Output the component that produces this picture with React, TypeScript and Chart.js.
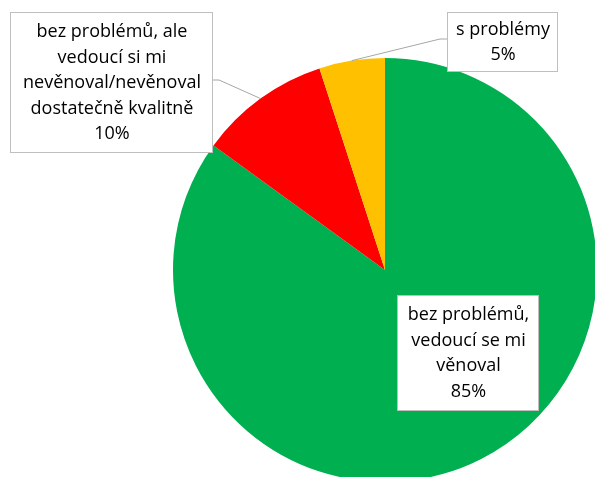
import React, { useEffect, useRef } from "react";
import { Chart, registerables } from "chart.js";

Chart.register(...registerables);

const categories: string[][] = [
  ["bez problémů,", "vedoucí se mi", "věnoval"],
  ["bez problémů, ale", "vedoucí si mi", "nevěnoval/nevěnoval", "dostatečně kvalitně"],
  ["s problémy"],
];
const values: number[] = [85, 10, 5];
const colors: string[] = ["#00B050", "#FF0000", "#FFC000"];

// label box layout (left, top, right, bottom) in page pixels
const boxes = [
  { x1: 397, y1: 295, x2: 538, y2: 410, leader: false },
  { x1: 10, y1: 12, x2: 212, y2: 152, leader: true, side: "right", ly: 80 },
  { x1: 447, y1: 12, x2: 557, y2: 71, leader: true, side: "left", ly: 39 },
];

const FONT = '18px "Open Sans", sans-serif';

const labelPlugin = {
  id: "boxLabels",
  afterDatasetsDraw(chart: any) {
    const ctx = chart.ctx as CanvasRenderingContext2D;
    const meta = chart.getDatasetMeta(0);
    const total = values.reduce((a, b) => a + b, 0);
    ctx.save();
    boxes.forEach((b: any, i: number) => {
      const arc = meta.data[i];
      if (b.leader && arc) {
        const mid = (arc.startAngle + arc.endAngle) / 2;
        const ax = arc.x + Math.cos(mid) * arc.outerRadius;
        const ay = arc.y + Math.sin(mid) * arc.outerRadius;
        ctx.strokeStyle = "#A6A6A6";
        ctx.lineWidth = 1;
        ctx.beginPath();
        ctx.moveTo(ax, ay);
        if (b.side === "right") {
          ctx.lineTo(b.x2 + 7, b.ly);
          ctx.lineTo(b.x2, b.ly);
        } else {
          ctx.lineTo(b.x1 - 7, b.ly);
          ctx.lineTo(b.x1, b.ly);
        }
        ctx.stroke();
      }
      ctx.fillStyle = "#FFFFFF";
      ctx.fillRect(b.x1, b.y1, b.x2 - b.x1, b.y2 - b.y1);
      ctx.strokeStyle = "#BFBFBF";
      ctx.lineWidth = 1;
      ctx.strokeRect(b.x1 + 0.5, b.y1 + 0.5, b.x2 - b.x1, b.y2 - b.y1);
      const lines = [...categories[i], Math.round((values[i] / total) * 100) + "%"];
      const lh = 25.5;
      const cx = (b.x1 + b.x2) / 2;
      const cy = (b.y1 + b.y2) / 2;
      const startY = cy - ((lines.length - 1) * lh) / 2;
      ctx.font = FONT;
      ctx.fillStyle = "#000000";
      ctx.textAlign = "center";
      ctx.textBaseline = "middle";
      lines.forEach((t, k) => ctx.fillText(t, cx + 1, startY + k * lh + 1));
    });
    ctx.restore();
  },
};

export default function App() {
  const ref = useRef<HTMLCanvasElement>(null);
  useEffect(() => {
    if (!ref.current) return;
    const chart = new Chart(ref.current, {
      type: "pie",
      data: {
        labels: categories.map((c) => c.join(" ")),
        datasets: [
          {
            data: values,
            backgroundColor: colors,
            borderWidth: 0,
          },
        ],
      },
      options: {
        animation: false,
        responsive: false,
        maintainAspectRatio: false,
        layout: { padding: { left: 173, top: 58, right: 27, bottom: 58 } },
        plugins: {
          legend: { display: false },
          tooltip: { enabled: false },
        },
      },
      plugins: [labelPlugin],
    });
    return () => chart.destroy();
  }, []);
  return (
    <div
      style={{
        position: "fixed",
        left: 0,
        top: 0,
        width: 595,
        height: 477,
        overflow: "hidden",
        background: "#FFFFFF",
      }}
    >
      <canvas ref={ref} width={624} height={540} style={{ display: "block" }} />
    </div>
  );
}
